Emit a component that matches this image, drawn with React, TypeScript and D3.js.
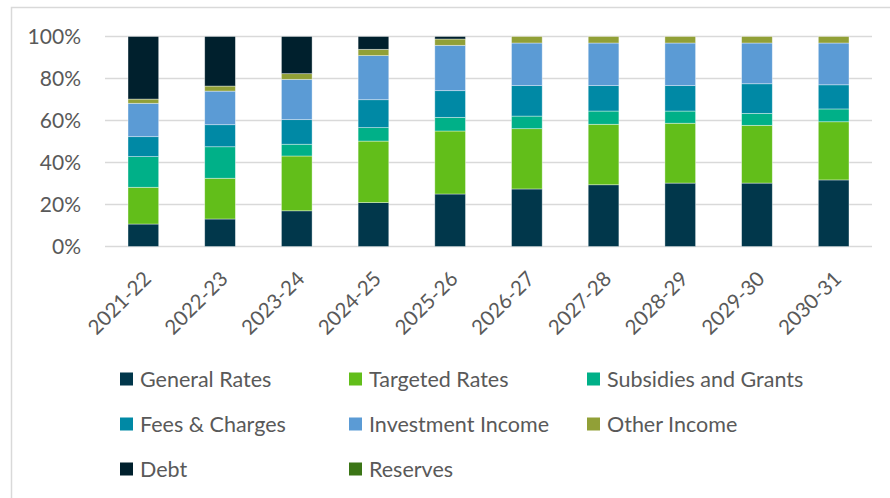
import React from "react";
import * as d3 from "d3";

const categories = ["2021-22","2022-23","2023-24","2024-25","2025-26","2026-27","2027-28","2028-29","2029-30","2030-31"];
const seriesNames = ["General Rates","Targeted Rates","Subsidies and Grants","Fees & Charges","Investment Income","Other Income","Debt","Reserves"];
const generalRates = [10.7,13.1,17.0,20.9,25.0,27.4,29.4,30.2,30.2,31.7];
const targetedRates = [17.5,19.4,26.1,29.3,30.0,28.7,28.8,28.5,27.5,27.7];
const subsidiesGrants = [14.6,15.0,5.6,6.4,6.5,6.0,6.3,5.8,5.7,6.1];
const feesCharges = [9.5,10.5,11.7,13.3,12.7,14.5,12.1,12.1,14.1,11.5];
const investmentIncome = [15.9,16.0,19.2,21.0,21.6,20.3,20.3,20.3,19.4,19.9];
const otherIncome = [2.0,2.4,2.7,3.0,3.0,3.1,3.1,3.1,3.1,3.1];
const debt = [29.8,23.6,17.7,6.1,1.2,0,0,0,0,0];
const reserves = [0,0,0,0,0,0,0,0,0,0];
const yTicks = [0,20,40,60,80,100];

const colors = ["#01374b","#62be1a","#00b088","#0089a5","#5b9bd5","#91a037","#00202d","#3b7516"];
const allSeries = [generalRates,targetedRates,subsidiesGrants,feesCharges,investmentIncome,otherIncome,debt,reserves];

export default function App() {
  const font = "Lato, 'Open Sans', sans-serif";
  const x = d3.scaleBand<string>().domain(categories).range([105, 872]).paddingInner(0.6).paddingOuter(0.3);
  const y = d3.scaleLinear().domain([0, 100]).range([246.5, 36.5]);
  const rows = categories.map((c, i) => {
    const r: any = { cat: c };
    seriesNames.forEach((s, j) => (r[s] = allSeries[j][i]));
    return r;
  });
  const stacked = d3.stack<any>().keys(seriesNames)(rows);
  const legendCols = [120, 349, 587];
  const legendRows = [379, 424, 469];
  return (
    <div style={{ position: "absolute", left: 0, top: 0 }}>
      <svg width={890} height={498} style={{ display: "block", background: "#fff" }}>
        <rect x={11.5} y={7.5} width={900} height={520} fill="#fff" stroke="#d9d9d9" strokeWidth={1.5} />
        {yTicks.map((t) => (
          <g key={t}>
            <line x1={105} x2={872} y1={y(t)} y2={y(t)} stroke="#d9d9d9" strokeWidth={1.5} />
            <text x={81} y={y(t) + 7.5} textAnchor="end" fontFamily={font} fontSize={21} fill="#595959">{t}%</text>
          </g>
        ))}
        {stacked.map((layer, j) => (
          <g key={layer.key} fill={colors[j]}>
            {layer.map((d, i) =>
              d[1] - d[0] > 0 ? (
                <rect key={i} x={x(categories[i])!} width={x.bandwidth()} y={y(d[1])} height={y(d[0]) - y(d[1])} stroke="#ffffff" strokeOpacity={0.5} strokeWidth={0.75} />
              ) : null
            )}
          </g>
        ))}
        {categories.map((c) => {
          const cx = x(c)! + x.bandwidth() / 2 + 4;
          const cy = 275;
          return (
            <text key={c} transform={`translate(${cx},${cy}) rotate(-45)`} textAnchor="end" fontFamily={font} fontSize={20.5} fill="#595959" dy="0.35em">{c}</text>
          );
        })}
        {seriesNames.map((s, j) => {
          const col = j % 3;
          const row = Math.floor(j / 3);
          const lx = legendCols[col];
          const ly = legendRows[row];
          return (
            <g key={s}>
              <rect x={lx} y={ly - 6.5} width={13} height={13} fill={colors[j]} />
              <text x={lx + 20} y={ly + 7.5} fontFamily={font} fontSize={21.5} fill="#595959">{s}</text>
            </g>
          );
        })}
      </svg>
    </div>
  );
}
